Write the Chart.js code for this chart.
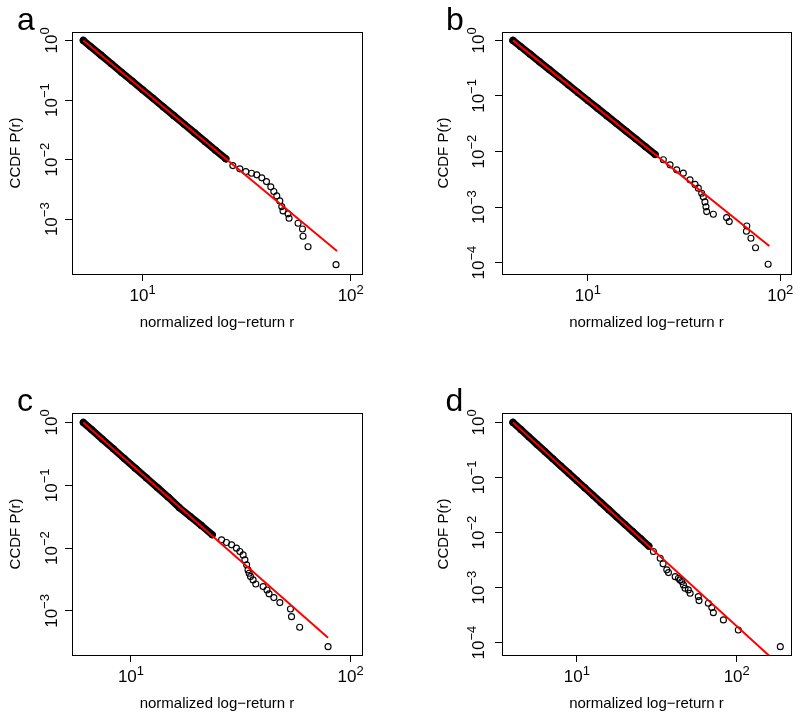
<!DOCTYPE html>
<html>
<head>
<meta charset="utf-8">
<script src="https://cdn.jsdelivr.net/npm/chart.js@4/dist/chart.umd.min.js"></script>
<style>
    html, body { margin: 0; padding: 0; background: #ffffff; }
    #wrap { position: relative; width: 801px; height: 720px; }
    #wrap canvas { position: absolute; left: 0; top: 0; }
</style>
</head>
<body>
<div id="wrap">
    <canvas id="panelA" width="801" height="720"></canvas>
    <canvas id="panelB" width="801" height="720"></canvas>
    <canvas id="panelC" width="801" height="720"></canvas>
    <canvas id="panelD" width="801" height="720"></canvas>
</div>
<script>
// tick values (decades)
const xTicks = [10, 100];
const yTicks3 = [1, 0.1, 0.01, 0.001];
const yTicks4 = [1, 0.1, 0.01, 0.001, 0.0001];

// panel a
const aBandR = [5.19, 5.62, 6.31, 7.08, 7.94, 8.91, 10.0, 11.22, 12.59, 14.13, 15.85, 17.78, 19.95, 22.39, 25.12];
const aBandP = [1.0, 0.791, 0.566, 0.405, 0.290, 0.208, 0.149, 0.1067, 0.0764, 0.0547, 0.0392, 0.0281, 0.0201, 0.0144, 0.0103];
const aTailR = [27.14, 29.32, 31.33, 33.37, 35.38, 37.38, 39.38, 41.3, 42.7, 44.13, 45.62, 46.64, 47.3, 50.0, 50.56, 55.85, 58.64, 59.0, 62.37, 85.0];
const aTailP = [0.00794, 0.00700, 0.00630, 0.00592, 0.00555, 0.00494, 0.00428, 0.00349, 0.00291, 0.00246, 0.00203, 0.00163, 0.00138, 0.00123, 0.00104, 0.000856, 0.000687, 0.000518, 0.000346, 0.000173];
const aFitR = [5.19, 85.9];
const aFitP = [1.0, 0.000293];

// panel b
const bBandR = [4.08, 4.47, 5.01, 5.62, 6.31, 7.08, 7.94, 8.91, 10.0, 11.22, 12.59, 14.13, 15.85, 17.78, 19.95, 22.39];
const bBandP = [1.0, 0.778, 0.565, 0.410, 0.298, 0.217, 0.157, 0.114, 0.0830, 0.0603, 0.0438, 0.0318, 0.0231, 0.0168, 0.0122, 0.00885];
const bTailR = [24.68, 26.74, 28.96, 31.34, 33.96, 36.06, 37.5, 39.05, 39.8, 40.6, 41.1, 41.45, 44.9, 52.6, 54.3, 67.0, 66.7, 70.4, 74.4, 86.5];
const bTailP = [0.00709, 0.00576, 0.00468, 0.00408, 0.00309, 0.00256, 0.00219, 0.00178, 0.00153, 0.00124, 0.00101, 0.00083, 0.000745, 0.000647, 0.000548, 0.000458, 0.000368, 0.000275, 0.000186, 0.0000936];
const bFitR = [4.08, 87.7];
const bFitP = [1.0, 0.000200];

// panel c
const cBandR = [6.07, 6.61, 7.41, 8.32, 9.33, 10.47, 11.75, 13.18, 14.79, 16.60, 18.62, 20.89, 23.44];
const cBandP = [1.0, 0.770, 0.541, 0.380, 0.266, 0.187, 0.131, 0.0920, 0.0646, 0.0440, 0.0318, 0.0230, 0.0163];
const cTailR = [25.85, 27.2, 28.7, 30.2, 31.3, 32.4, 33.0, 33.6, 34.1, 34.5, 35.0, 35.97, 37.0, 39.95, 41.6, 42.5, 44.7, 47.6, 53.2, 53.8, 58.6, 78.9];
const cTailP = [0.01353, 0.01226, 0.01126, 0.00998, 0.00881, 0.00780, 0.00650, 0.00541, 0.00450, 0.00399, 0.00352, 0.00312, 0.00269, 0.00244, 0.00216, 0.00187, 0.00163, 0.001357, 0.001076, 0.000811, 0.000550, 0.000270];
const cFitR = [6.07, 78.9];
const cFitP = [1.0, 0.000376];

// panel d
const dBandR = [3.98, 4.47, 5.01, 5.62, 6.31, 7.08, 7.94, 8.91, 10.0, 11.22, 12.59, 14.13, 15.85, 17.78, 19.95, 22.39, 25.12, 28.18];
const dBandP = [1.0, 0.738, 0.544, 0.401, 0.296, 0.218, 0.161, 0.119, 0.0876, 0.0646, 0.0476, 0.0351, 0.0259, 0.0191, 0.0141, 0.0104, 0.00767, 0.00566];
const dTailR = [30.1, 33.2, 34.6, 36.5, 37.4, 41.2, 43.2, 44.2, 45.3, 46.4, 47.5, 49.8, 51.1, 57.5, 58.1, 66.4, 69.8, 71.4, 82.5, 102.3, 187.3];
const dTailP = [0.00452, 0.00342, 0.00270, 0.00210, 0.00187, 0.00158, 0.00148, 0.00138, 0.00129, 0.00112, 0.000975, 0.000908, 0.000791, 0.000686, 0.00058, 0.00052, 0.000433, 0.000351, 0.000259, 0.00017, 0.0000846];
const dFitR = [3.98, 188.4];
const dFitP = [1.0, 0.0000373];

const FONT = '"Liberation Sans", Arial, Helvetica, sans-serif';

function pts(xs, ys) {
    return xs.map((x, i) => ({ x: x, y: ys[i] }));
}

// draws "10" with a raised exponent, centred on x, baseline y
function drawPow(ctx, value, x, y) {
    const e = Math.round(Math.log10(value));
    const sup = e < 0 ? '\u2212' + (-e) : String(e);
    ctx.font = '17px ' + FONT;
    const wb = ctx.measureText('10').width;
    ctx.font = '13px ' + FONT;
    const ws = ctx.measureText(sup).width;
    const x0 = x - (wb + ws) / 2;
    ctx.font = '17px ' + FONT;
    ctx.fillText('10', x0, y);
    ctx.font = '13px ' + FONT;
    ctx.fillText(sup, x0 + wb, y - 7.5);
}

// R style: box around plot, decade labels, panel letter
const rStyle = {
    id: 'rStyle',
    afterDraw(chart, args, opts) {
        const ctx = chart.ctx;
        const area = chart.chartArea;
        ctx.save();
        ctx.strokeStyle = '#000';
        ctx.lineWidth = 1;
        ctx.strokeRect(area.left + 0.5, area.top + 0.5, area.right - area.left, area.bottom - area.top);

        ctx.fillStyle = '#000';
        ctx.textBaseline = 'alphabetic';
        ctx.textAlign = 'left';

        const xs = chart.scales.x;
        xs.ticks.forEach(t => {
            drawPow(ctx, t.value, xs.getPixelForValue(t.value), area.bottom + 27);
        });

        const ys = chart.scales.y;
        ys.ticks.forEach(t => {
            ctx.save();
            ctx.translate(area.left - opts.yLabelGap, ys.getPixelForValue(t.value));
            ctx.rotate(-Math.PI / 2);
            drawPow(ctx, t.value, 0, 0);
            ctx.restore();
        });

        ctx.font = '32px ' + FONT;
        ctx.fillText(opts.letter, opts.letterX, opts.letterY);
        ctx.restore();
    }
};

function makePanel(id, p) {
    const bandPts = pts(p.bandR, p.bandP);
    const allPts = bandPts.concat(pts(p.tailR, p.tailP));

    return new Chart(document.getElementById(id), {
        type: 'scatter',
        data: {
            datasets: [
                {
                    type: 'line',
                    data: pts(p.fitR, p.fitP),
                    borderColor: '#ff0000',
                    borderWidth: 2,
                    pointRadius: 0,
                    clip: 0,
                    order: 0
                },
                {
                    data: allPts,
                    pointRadius: 3,
                    borderWidth: 1.1,
                    borderColor: '#000000',
                    backgroundColor: 'rgba(0,0,0,0)',
                    order: 1
                },
                {
                    type: 'line',
                    data: bandPts,
                    borderColor: '#000000',
                    borderWidth: 7.2,
                    borderCapStyle: 'round',
                    borderJoinStyle: 'round',
                    pointRadius: 0,
                    order: 2
                }
            ]
        },
        options: {
            responsive: false,
            animation: false,
            events: [],
            layout: { padding: p.padding },
            plugins: {
                legend: { display: false },
                tooltip: { enabled: false },
                rStyle: { letter: p.letter, letterX: p.letterX, letterY: p.letterY, yLabelGap: p.yLabelGap }
            },
            scales: {
                x: {
                    type: 'logarithmic',
                    position: 'bottom',
                    min: p.xMin,
                    max: p.xMax,
                    bounds: 'data',
                    afterBuildTicks: s => { s.ticks = xTicks.map(v => ({ value: v })); },
                    afterFit: s => { s.height = 60; },
                    grid: { drawOnChartArea: false, drawTicks: true, tickLength: 7, color: '#000', lineWidth: 1 },
                    border: { display: false },
                    ticks: { display: false },
                    title: {
                        display: true,
                        text: 'normalized log\u2212return r',
                        color: '#000',
                        font: { family: FONT, size: 15 },
                        padding: { top: 0, bottom: 2 }
                    }
                },
                y: {
                    type: 'logarithmic',
                    position: 'left',
                    min: p.yMin,
                    max: p.yMax,
                    bounds: 'data',
                    afterBuildTicks: s => { s.ticks = p.yTicks.map(v => ({ value: v })); },
                    afterFit: s => { s.width = p.yWidth; },
                    grid: { drawOnChartArea: false, drawTicks: true, tickLength: 7, color: '#000', lineWidth: 1 },
                    border: { display: false },
                    ticks: { display: false },
                    title: {
                        display: true,
                        text: 'CCDF P(r)',
                        color: '#000',
                        font: { family: FONT, size: 15 },
                        padding: { top: 6.8, bottom: 0 }
                    }
                }
            }
        },
        plugins: [rStyle]
    });
}

makePanel('panelA', {
    bandR: aBandR, bandP: aBandP, tailR: aTailR, tailP: aTailP, fitR: aFitR, fitP: aFitP,
    xMin: 4.579, xMax: 113.3, yMin: 1.205e-4, yMax: 1.384, yTicks: yTicks3,
    padding: { left: 0, right: 439, top: 32, bottom: 386 }, yWidth: 72, yLabelGap: 15.5,
    letter: 'a', letterX: 17, letterY: 30
});
makePanel('panelB', {
    bandR: bBandR, bandP: bBandP, tailR: bTailR, tailP: bTailP, fitR: bFitR, fitP: bFitP,
    xMin: 3.58, xMax: 113.7, yMin: 6.25e-5, yMax: 1.416, yTicks: yTicks4,
    padding: { left: 428, right: 10, top: 32, bottom: 386 }, yWidth: 74, yLabelGap: 18.5,
    letter: 'b', letterX: 446, letterY: 30
});
makePanel('panelC', {
    bandR: cBandR, bandP: cBandP, tailR: cTailR, tailP: cTailP, fitR: cFitR, fitP: cFitP,
    xMin: 5.39, xMax: 112.6, yMin: 1.99e-4, yMax: 1.413, yTicks: yTicks3,
    padding: { left: 0, right: 439, top: 413, bottom: 5 }, yWidth: 72, yLabelGap: 15.5,
    letter: 'c', letterX: 17, letterY: 411
});
makePanel('panelD', {
    bandR: dBandR, bandP: dBandP, tailR: dTailR, tailP: dTailP, fitR: dFitR, fitP: dFitP,
    xMin: 3.40, xMax: 218.5, yMin: 5.97e-5, yMax: 1.48, yTicks: yTicks4,
    padding: { left: 428, right: 10, top: 413, bottom: 5 }, yWidth: 74, yLabelGap: 18.5,
    letter: 'd', letterX: 445.5, letterY: 411
});
</script>
</body>
</html>
